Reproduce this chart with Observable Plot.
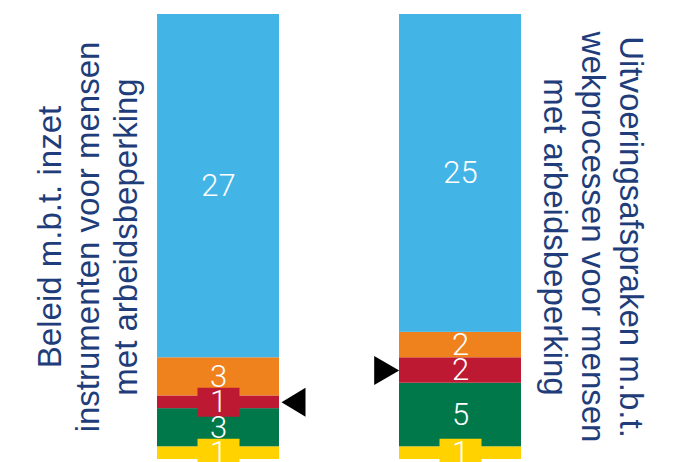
<!DOCTYPE html>
<html><head><meta charset="utf-8">
<script src="https://cdn.jsdelivr.net/npm/d3@7"></script>
<script src="https://cdn.jsdelivr.net/npm/@observablehq/plot@0.6"></script>
<style>html,body{margin:0;padding:0;background:#fff;} #chart svg{display:block}</style>
</head><body><div id="chart"></div>
<script>
const bars = ["links", "rechts"];
const titles = [
  "Beleid m.b.t. inzet\ninstrumenten voor mensen\nmet arbeidsbeperking",
  "Uitvoeringsafspraken m.b.t.\nwekprocessen voor mensen\nmet arbeidsbeperking"
];
const categories = ["geel", "groen", "rood", "oranje", "blauw"]; // bottom to top
const colors = ["#ffd200", "#00784a", "#be1932", "#f0821e", "#42b4e6"];
const leftValues = [1, 3, 1, 3, 27];
const rightValues = [1, 5, 2, 2, 25];
const markedCategory = "rood";
const boxedValue = 1;

// build stacked table from the arrays
const segments = [];
[leftValues, rightValues].forEach((vals, i) => {
  let acc = 0;
  vals.forEach((v, j) => {
    segments.push({bar: bars[i], cat: categories[j], value: v, y1: acc, y2: acc + v, mid: acc + v / 2});
    acc += v;
  });
});
const total = d3.max([d3.sum(leftValues), d3.sum(rightValues)]);

const boxSymbol = {draw(ctx) { ctx.rect(-21, -14.5, 42, 29); }};
const triLeft = {draw(ctx) { ctx.moveTo(0, 0); ctx.lineTo(24, -14.5); ctx.lineTo(24, 14.5); ctx.closePath(); }};
const triRight = {draw(ctx) { ctx.moveTo(0, 0); ctx.lineTo(-25, -14.5); ctx.lineTo(-25, 14.5); ctx.closePath(); }};

const titleStyle = {
  textAnchor: "middle", lineAnchor: "middle", lineHeight: 1.16,
  fontSize: 33, fontFamily: "'Liberation Sans', Arial, sans-serif", fill: "#1f3d7a"
};

const chart = Plot.plot({
  width: 678, height: 462,
  marginTop: 14, marginBottom: 3, marginLeft: 157, marginRight: 156,
  x: {type: "band", domain: bars, paddingInner: 120 / 243, paddingOuter: 0, axis: null},
  y: {domain: [0, total], axis: null},
  color: {domain: categories, range: colors},
  marks: [
    Plot.barY(segments, {x: "bar", y1: "y1", y2: "y2", fill: "cat"}),
    Plot.dot(segments.filter(d => d.value === boxedValue), {x: "bar", y: "mid", fill: "cat", symbol: boxSymbol}),
    Plot.text(segments, {x: "bar", y: "mid", text: "value", fill: "white", fontSize: 31, fontWeight: 300, fontFamily: "Roboto, sans-serif"}),
    Plot.dot(segments.filter(d => d.bar === bars[0] && d.cat === markedCategory), {x: "bar", y: "mid", symbol: triLeft, fill: "black", dx: 63}),
    Plot.dot(segments.filter(d => d.bar === bars[1] && d.cat === markedCategory), {x: "bar", y: "mid", symbol: triRight, fill: "black", dx: -61.3}),
    Plot.text([titles[0]], {frameAnchor: "left", text: d => d, rotate: -90, dx: -70.6, ...titleStyle}),
    Plot.text([titles[1]], {frameAnchor: "right", text: d => d, rotate: 90, dx: 71.6, ...titleStyle})
  ]
});
document.getElementById("chart").appendChild(chart);
</script>
</body></html>
